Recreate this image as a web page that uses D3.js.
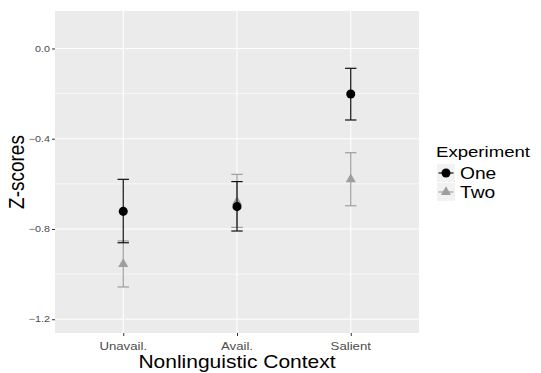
<!DOCTYPE html>
<html>
<head>
<meta charset="utf-8">
<script src="https://cdn.jsdelivr.net/npm/d3@7"></script>
<style>
  body { margin: 0; background: #fff; }
  text { font-family: "Liberation Sans", Arial, Helvetica, sans-serif; }
</style>
</head>
<body>
<div id="chart"></div>
<script>
// data
const contexts = ["Unavail.", "Avail.", "Salient"];
const experiments = ["One", "Two"];

const oneMean = [-0.722, -0.701, -0.202];
const oneLow  = [-0.861, -0.809, -0.317];
const oneHigh = [-0.580, -0.590, -0.088];

const twoMean = [-0.956, -0.680, -0.580];
const twoLow  = [-1.057, -0.793, -0.697];
const twoHigh = [-0.853, -0.558, -0.462];

const yTicks = [0.0, -0.4, -0.8, -1.2];
const yMinor = [-0.2, -0.6, -1.0];

const W = 541, H = 373;
const margin = {top: 11, right: 122, bottom: 40, left: 55};
const stretch = 1.2; // text in the picture is a bit wider than normal

const svg = d3.select("#chart")
  .append("svg")
    .attr("width", W)
    .attr("height", H);

const x = d3.scalePoint()
  .domain(contexts)
  .range([margin.left, W - margin.right])
  .padding(0.6);

const y = d3.scaleLinear()
  .domain([-1.261, 0.166])
  .range([H - margin.bottom, margin.top]);

// stretched text helper
function label(g, px, py, str, size, fill, anchor, rotate) {
  return g.append("text")
    .attr("transform", `translate(${px},${py}) scale(${stretch},1)` + (rotate ? ` rotate(${rotate})` : ""))
    .attr("text-anchor", anchor || "start")
    .attr("font-size", size)
    .attr("fill", fill)
    .text(str);
}

// panel
svg.append("rect")
  .attr("x", margin.left)
  .attr("y", margin.top)
  .attr("width", W - margin.right - margin.left)
  .attr("height", H - margin.bottom - margin.top)
  .attr("fill", "#ebebeb");

const grid = svg.append("g").attr("stroke", "#fff");
grid.selectAll("line.minor")
  .data(yMinor)
  .join("line")
    .attr("class", "minor")
    .attr("x1", margin.left).attr("x2", W - margin.right)
    .attr("y1", d => y(d)).attr("y2", d => y(d))
    .attr("stroke-width", 0.6);
grid.selectAll("line.major")
  .data(yTicks)
  .join("line")
    .attr("class", "major")
    .attr("x1", margin.left).attr("x2", W - margin.right)
    .attr("y1", d => y(d)).attr("y2", d => y(d))
    .attr("stroke-width", 1.1);
grid.selectAll("line.vert")
  .data(contexts)
  .join("line")
    .attr("class", "vert")
    .attr("x1", d => x(d)).attr("x2", d => x(d))
    .attr("y1", margin.top).attr("y2", H - margin.bottom)
    .attr("stroke-width", 1.1);

// axes (ticks drawn by d3, then restyled)
const xAxis = svg.append("g")
  .attr("transform", `translate(0, ${H - margin.bottom})`)
  .call(d3.axisBottom(x).tickSize(3).tickFormat(""));
const yAxis = svg.append("g")
  .attr("transform", `translate(${margin.left}, 0)`)
  .call(d3.axisLeft(y).tickValues(yTicks).tickSize(3).tickFormat(""));
[xAxis, yAxis].forEach(a => {
  a.select(".domain").remove();
  a.selectAll(".tick line").attr("stroke", "#333").attr("stroke-width", 1);
});

contexts.forEach(c => label(svg, x(c), 350, c, 11, "#4d4d4d", "middle"));
yTicks.forEach(v => label(svg, 50, y(v) + 3.2, d3.format(".1f")(v), 9, "#4d4d4d", "end"));

label(svg, (margin.left + W - margin.right) / 2, 367.5, "Nonlinguistic Context", 17.5, "#000", "middle");
label(svg, 24, (margin.top + H - margin.bottom) / 2, "Z-scores", 19, "#000", "middle", -90);

// series
const series = [
  {name: "Two", mean: twoMean, low: twoLow, high: twoHigh, color: "#9e9e9e", shape: d3.symbolTriangle, size: 44},
  {name: "One", mean: oneMean, low: oneLow, high: oneHigh, color: "#111", shape: d3.symbolCircle, size: 64}
];
const capW = 5.7;

series.forEach(s => {
  const rows = contexts.map((c, i) => ({c, m: s.mean[i], lo: s.low[i], hi: s.high[i]}));
  const g = svg.append("g");
  const bars = g.selectAll("g").data(rows).join("g")
    .attr("stroke", s.color)
    .attr("stroke-width", 1.2);
  bars.append("line")
    .attr("x1", d => x(d.c)).attr("x2", d => x(d.c))
    .attr("y1", d => y(d.hi)).attr("y2", d => y(d.lo));
  bars.append("line")
    .attr("x1", d => x(d.c) - capW).attr("x2", d => x(d.c) + capW)
    .attr("y1", d => y(d.hi)).attr("y2", d => y(d.hi));
  bars.append("line")
    .attr("x1", d => x(d.c) - capW).attr("x2", d => x(d.c) + capW)
    .attr("y1", d => y(d.lo)).attr("y2", d => y(d.lo));
  g.selectAll("path").data(rows).join("path")
    .attr("transform", d => `translate(${x(d.c)},${y(d.m)})`)
    .attr("d", d3.symbol().type(s.shape).size(s.size))
    .attr("fill", s.color === "#111" ? "#000" : s.color);
});

// legend
const lg = svg.append("g");
label(lg, 436, 156.5, "Experiment", 15.5, "#000", "start");
const keyOrder = [series[1], series[0]];
keyOrder.forEach((s, i) => {
  const ky = 164 + i * 19;
  lg.append("rect")
    .attr("x", 437).attr("y", ky)
    .attr("width", 18).attr("height", 18)
    .attr("fill", "#f2f2f2");
  lg.append("line")
    .attr("x1", 438.5).attr("x2", 453.5)
    .attr("y1", ky + 9).attr("y2", ky + 9)
    .attr("stroke", s.color)
    .attr("stroke-width", 1.2);
  lg.append("path")
    .attr("transform", `translate(446, ${ky + 9})`)
    .attr("d", d3.symbol().type(s.shape).size(s.size))
    .attr("fill", s.color === "#111" ? "#000" : s.color);
  label(lg, 460, ky + 15, s.name, 16, "#000", "start");
});
</script>
</body>
</html>
